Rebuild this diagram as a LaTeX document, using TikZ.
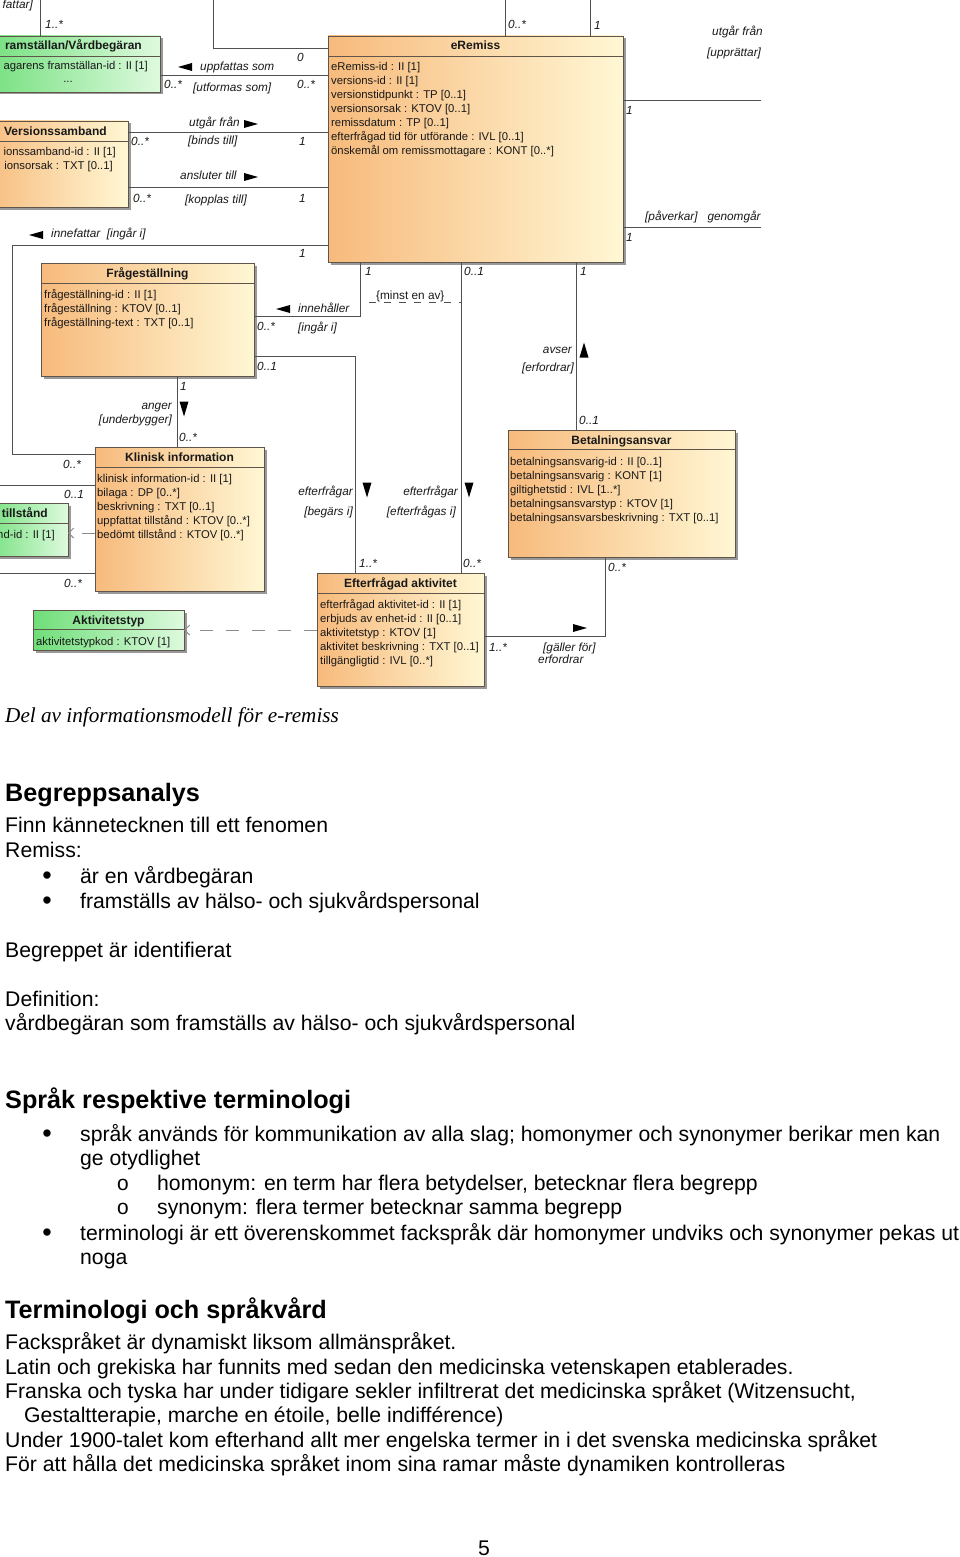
\documentclass[tikz,border=0pt]{standalone}
\usepackage{fontspec}
\setmainfont{Liberation Sans}
\newfontfamily\capfont{Liberation Serif}
\newfontfamily\bulmono{Liberation Mono}
\usetikzlibrary{calc,shadows,arrows.meta}
\definecolor{oA}{RGB}{247,186,124}
\definecolor{oB}{RGB}{255,247,212}
\definecolor{gA}{RGB}{110,222,120}
\definecolor{gB}{RGB}{222,250,222}
\definecolor{bdr}{RGB}{95,85,75}
\definecolor{lin}{RGB}{80,80,80}
\definecolor{txt}{RGB}{25,25,25}
\definecolor{dep}{RGB}{140,140,140}
\tikzset{
  cls/.style={draw=bdr,line width=0.9pt,left color=oA,right color=oB,anchor=north west,inner sep=0pt,outer sep=0pt,
     drop shadow={shadow xshift=2.5pt,shadow yshift=-2.5pt,opacity=0.4,fill=black}},
  gcls/.style={cls,left color=gA,right color=gB},
  sepl/.style={draw=bdr,line width=0.9pt},
  ttl/.style={font=\fontsize{12}{14}\selectfont\bfseries,text=txt,anchor=base,inner sep=0pt},
  att/.style={font=\fontsize{11.3}{14}\selectfont,text=txt,anchor=base west,inner sep=0pt},
  lab/.style={font=\fontsize{11.8}{14}\selectfont\itshape,text=txt,anchor=base west,inner sep=0pt},
  labr/.style={lab,anchor=base east},
  con/.style={draw=lin,line width=0.8pt},
  depc/.style={draw=dep,line width=1pt,dash pattern=on 13pt off 13pt,-{Straight Barb[length=5pt,width=10pt]}},
  bt/.style={font=\fontsize{21.2}{25}\selectfont,anchor=base west,inner sep=0pt},
  bul/.style={font=\fontsize{27}{25}\selectfont,anchor=base,inner sep=0pt},
  hd/.style={font=\fontsize{25.2}{30}\selectfont\bfseries,anchor=base west,inner sep=0pt},
}
\newcommand\umlcls[7]{%
  \node[#1,minimum width=#5pt,minimum height=#6pt] (#2) at (#3,#4) {};
  \draw[sepl] ($(#2.north west)+(0,#7)$) -- ($(#2.north east)+(0,#7)$);}
\newcommand\umlatts[4]{\foreach \atxt [count=\i] in {#4}{\node[att] (#1-\i) at (#2,{#3+14*(\i-1)}) {\atxt};}}
\newcommand\trileft[2]{\fill[black] (#1,#2) ++(-7,0) -- ++(14,-4) -- ++(0,8) -- cycle;}
\newcommand\triright[2]{\fill[black] (#1,#2) ++(7,0) -- ++(-14,-4) -- ++(0,8) -- cycle;}
\newcommand\tridown[2]{\fill[black] (#1,#2) ++(0,7.5) -- ++(-4.5,-15) -- ++(9,0) -- cycle;}
\newcommand\triup[2]{\fill[black] (#1,#2) ++(0,-7.5) -- ++(-4.5,15) -- ++(9,0) -- cycle;}
\begin{document}
\begin{tikzpicture}[x=1pt,y=-1pt]
\useasboundingbox (0,0) rectangle (960,1557);
\fill[white] (0,0) rectangle (960,1557);
\begin{scope}
\clip (0,0) rectangle (761,700);
% ---------- classes ----------
\umlcls{gcls}{fv}{-25}{36}{185}{56}{20}
\umlcls{cls}{vs}{-20}{121}{148}{86}{20}
\umlcls{cls}{er}{328}{36}{295}{226}{20}
\umlcls{cls}{fq}{41}{263}{213}{113}{20}
\umlcls{cls}{ki}{95}{447}{169}{144}{20}
\umlcls{gcls}{ti}{-20}{503}{88}{53}{20}
\umlcls{gcls}{at}{33}{610}{151}{40}{19}
\umlcls{cls}{ea}{317}{573}{167}{113}{20}
\umlcls{cls}{ba}{508}{430}{227}{127}{19}
% titles
\node[ttl,anchor=base east] (fv-t) at (142,50) {ramställan/Vårdbegäran};
\node[ttl,anchor=base east] (vs-t) at (107,136) {Versionssamband};
\node[ttl] (er-t) at ($(er.north)+(0,14)$) {eRemiss};
\node[ttl] (fq-t) at ($(fq.north)+(0,14)$) {Frågeställning};
\node[ttl] (ki-t) at ($(ki.north)+(0,14)$) {Klinisk information};
\node[ttl,anchor=base east] (ti-t) at (48,517) {tillstånd};
\node[ttl] (at-t) at ($(at.north)+(0,14)$) {Aktivitetstyp};
\node[ttl] (ea-t) at ($(ea.north)+(0,14)$) {Efterfrågad aktivitet};
\node[ttl] (ba-t) at ($(ba.north)+(0,14)$) {Betalningsansvar};
% attributes
\node[att,anchor=base east] (fv-1) at (148,70) {agarens framställan-id : II [1]};
\node[att,anchor=base] (fv-2) at (68,83) {...};
\node[att,anchor=base east] (vs-1) at (116,156) {ionssamband-id : II [1]};
\node[att,anchor=base east] (vs-2) at (113,170) {ionsorsak : TXT [0..1]};
\node[att,anchor=base east] (ti-1) at (55,538) {nd-id : II [1]};
\umlatts{er}{331}{71}{eRemiss-id : II [1],versions-id : II [1],versionstidpunkt : TP [0..1],versionsorsak : KTOV [0..1],remissdatum : TP [0..1],efterfrågad tid för utförande : IVL [0..1],önskemål om remissmottagare : KONT [0..*]}
\umlatts{fq}{44}{298}{frågeställning-id : II [1],frågeställning : KTOV [0..1],frågeställning-text : TXT [0..1]}
\umlatts{ki}{97}{482}{klinisk information-id : II [1],bilaga : DP [0..*],beskrivning : TXT [0..1],uppfattat tillstånd : KTOV [0..*],bedömt tillstånd : KTOV [0..*]}
\umlatts{at}{36}{645}{aktivitetstypkod : KTOV [1]}
\umlatts{ea}{320}{608}{efterfrågad aktivitet-id : II [1],erbjuds av enhet-id : II [0..1],aktivitetstyp : KTOV [1],aktivitet beskrivning : TXT [0..1],tillgängligtid : IVL [0..*]}
\umlatts{ba}{510}{465}{betalningsansvarig-id : II [0..1],betalningsansvarig : KONT [1],giltighetstid : IVL [1..*],betalningsansvarstyp : KTOV [1],betalningsansvarsbeskrivning : TXT [0..1]}
% ---------- connectors ----------
\coordinate (topA) at (40,-5);
\coordinate (topB) at (213,-5);
\coordinate (topC) at (505,-5);
\coordinate (topD) at (590,-5);
\coordinate (rgtA) at (770,100);
\coordinate (rgtB) at (770,227);
\coordinate (lftA) at (-5,485);
\coordinate (lftB) at (-5,573);
\coordinate (bend) at (12,454);
\coordinate (mA) at (369,302);
\coordinate (mB) at (461,302);
\draw[con] (fv.north -| topA) -- (topA);
\draw[con] (topB) |- (er.west |- 0,48);
\draw[con] (fv.east |- 0,75) -- (er.west |- 0,75);
\draw[con] (vs.east |- 0,132) -- (er.west |- 0,132);
\draw[con] (vs.east |- 0,187) -- (er.west |- 0,187);
\draw[con] (er.west |- 0,245) -| (bend) -- (ki.west |- bend);
\draw[con] (fq.east |- 0,316) -| (er.south -| 360,0);
\draw[con] (fq.east |- 0,356) -| (ea.north -| 355,0);
\draw[con] (er.south -| 461,0) -- (ea.north -| 461,0);
\draw[con] (er.south -| 576,0) -- (ba.north -| 576,0);
\draw[con] (fq.south -| 177,0) -- (ki.north -| 177,0);
\draw[con] (lftA) -- (ki.west |- lftA);
\draw[con] (lftB) -- (ki.west |- lftB);
\draw[depc] (ki.west |- 0,533) -- (ti.east |- 0,533);
\draw[depc] (ea.west |- 0,630) -- (at.east |- 0,630);
\draw[con] (ea.east |- 0,636) -| (ba.south -| 605,0);
\draw[con] (topC) -- (er.north -| topC);
\draw[con] (topD) -- (er.north -| topD);
\draw[con] (er.east |- rgtA) -- (rgtA);
\draw[con] (er.east |- rgtB) -- (rgtB);
\draw[con,dash pattern=on 7pt off 8pt] (mA) -- (mB);
% ---------- labels ----------
\node[labr] (l1) at (33,9) {fattar]};
\node[lab] (l2) at (45,29) {1..*};
\node[lab] (l3) at (297,62) {0};
\trileft{185}{67}
\node[lab] (l4) at (200,71) {uppfattas som};
\node[lab] (l5) at (164,89) {0..*};
\node[lab] (l6) at (193,92) {[utformas som]};
\node[lab] (l7) at (297,89) {0..*};
\node[lab] (l8) at (189,127) {utgår från};
\triright{251}{124}
\node[lab] (l9) at (131,146) {0..*};
\node[lab] (l10) at (188,145) {[binds till]};
\node[lab] (l11) at (299,146) {1};
\node[lab] (l12) at (180,180) {ansluter till};
\triright{251}{177}
\node[lab] (l13) at (133,202) {0..*};
\node[lab] (l14) at (185,204) {[kopplas till]};
\node[lab] (l15) at (299,202) {1};
\trileft{36}{235}
\node[lab] (l16) at (51,237) {innefattar\ \ [ingår i]};
\node[lab] (l17) at (299,257) {1};
\trileft{283}{309}
\node[lab] (l18) at (298,312) {innehåller};
\node[lab] (l19) at (257,330) {0..*};
\node[lab] (l20) at (298,331) {[ingår i]};
\node[lab] (l21) at (257,370) {0..1};
\node[lab] (l22) at (365,275) {1};
\node[lab,font=\fontsize{11.8}{14}\selectfont] (l23) at (376,299) {\{minst en av\}};
\node[lab] (l24) at (464,275) {0..1};
\node[lab] (l25) at (580,275) {1};
\node[labr] (l26) at (572,353) {avser};
\triup{584}{350}
\node[labr] (l27) at (574,371) {[erfordrar]};
\node[lab] (l28) at (579,424) {0..1};
\node[lab] (l29) at (180,390) {1};
\node[labr] (l30) at (172,409) {anger};
\tridown{184}{409}
\node[labr] (l31) at (172,423) {[underbygger]};
\node[lab] (l32) at (179,441) {0..*};
\node[lab] (l33) at (63,468) {0..*};
\node[lab] (l34) at (64,498) {0..1};
\node[lab] (l35) at (64,587) {0..*};
\node[labr] (l36) at (353,495) {efterfrågar};
\tridown{367}{490}
\node[labr] (l37) at (353,515) {[begärs i]};
\node[labr] (l38) at (458,495) {efterfrågar};
\tridown{469}{490}
\node[labr] (l39) at (456,515) {[efterfrågas i]};
\node[lab] (l40) at (359,567) {1..*};
\node[lab] (l41) at (463,567) {0..*};
\node[lab] (l42) at (608,571) {0..*};
\triright{580}{628}
\node[lab] (l43) at (489,651) {1..*};
\node[lab] (l44) at (543,651) {[gäller för]};
\node[lab] (l45) at (538,663) {erfordrar};
\node[lab] (l46) at (508,29) {0..*};
\node[lab] (l47) at (594,30) {1};
\node[lab] (l48) at (712,36) {utgår från};
\node[lab] (l49) at (707,57) {[upprättar]};
\node[lab] (l50) at (626,115) {1};
\node[lab] (l51) at (645,220) {[påverkar]\ \ \ genomgår};
\node[lab] (l52) at (626,241) {1};
\end{scope}
% ---------- text below ----------
\node[anchor=base west,inner sep=0pt,font=\capfont\itshape\fontsize{21.2}{25}\selectfont] (cap) at (5,722) {Del av informationsmodell för e-remiss};
\node[hd] (h1) at (5,801) {Begreppsanalys};
\node[bt] (t1) at (5,832) {Finn kännetecknen till ett fenomen};
\node[bt] (t2) at (5,857) {Remiss:};
\node[bul] (b1) at (47,884) {\textbullet};
\node[bt] (t3) at (80,883) {är en vårdbegäran};
\node[bul] (b2) at (47,909) {\textbullet};
\node[bt] (t4) at (80,908) {framställs av hälso- och sjukvårdspersonal};
\node[bt] (t5) at (5,957) {Begreppet är identifierat};
\node[bt] (t6) at (5,1006) {Definition:};
\node[bt] (t7) at (5,1030) {vårdbegäran som framställs av hälso- och sjukvårdspersonal};
\node[hd] (h2) at (5,1108) {Språk respektive terminologi};
\node[bul] (b3) at (47,1142) {\textbullet};
\node[bt] (t8) at (80,1141) {språk används för kommunikation av alla slag; homonymer och synonymer berikar men kan};
\node[bt] (t9) at (80,1165) {ge otydlighet};
\node[bt,anchor=base,font=\bulmono\fontsize{21}{25}\selectfont] (o1) at (123,1190) {o};
\node[bt] (t10) at (157,1190) {homonym: en term har flera betydelser, betecknar flera begrepp};
\node[bt,anchor=base,font=\bulmono\fontsize{21}{25}\selectfont] (o2) at (123,1214) {o};
\node[bt] (t11) at (157,1214) {synonym: flera termer betecknar samma begrepp};
\node[bul] (b4) at (47,1241) {\textbullet};
\node[bt] (t12) at (80,1240) {terminologi är ett överenskommet fackspråk där homonymer undviks och synonymer pekas ut};
\node[bt] (t13) at (80,1264) {noga};
\node[hd] (h3) at (5,1318) {Terminologi och språkvård};
\node[bt] (t14) at (5,1349) {Fackspråket är dynamiskt liksom allmänspråket.};
\node[bt] (t15) at (5,1374) {Latin och grekiska har funnits med sedan den medicinska vetenskapen etablerades.};
\node[bt] (t16) at (5,1398) {Franska och tyska har under tidigare sekler infiltrerat det medicinska språket (Witzensucht,};
\node[bt] (t17) at (24,1422) {Gestaltterapie, marche en étoile, belle indifférence)};
\node[bt] (t18) at (5,1447) {Under 1900-talet kom efterhand allt mer engelska termer in i det svenska medicinska språket};
\node[bt] (t19) at (5,1471) {För att hålla det medicinska språket inom sina ramar måste dynamiken kontrolleras};
\node[bt,anchor=base] (pg) at (484,1555) {5};
\end{tikzpicture}
\end{document}
